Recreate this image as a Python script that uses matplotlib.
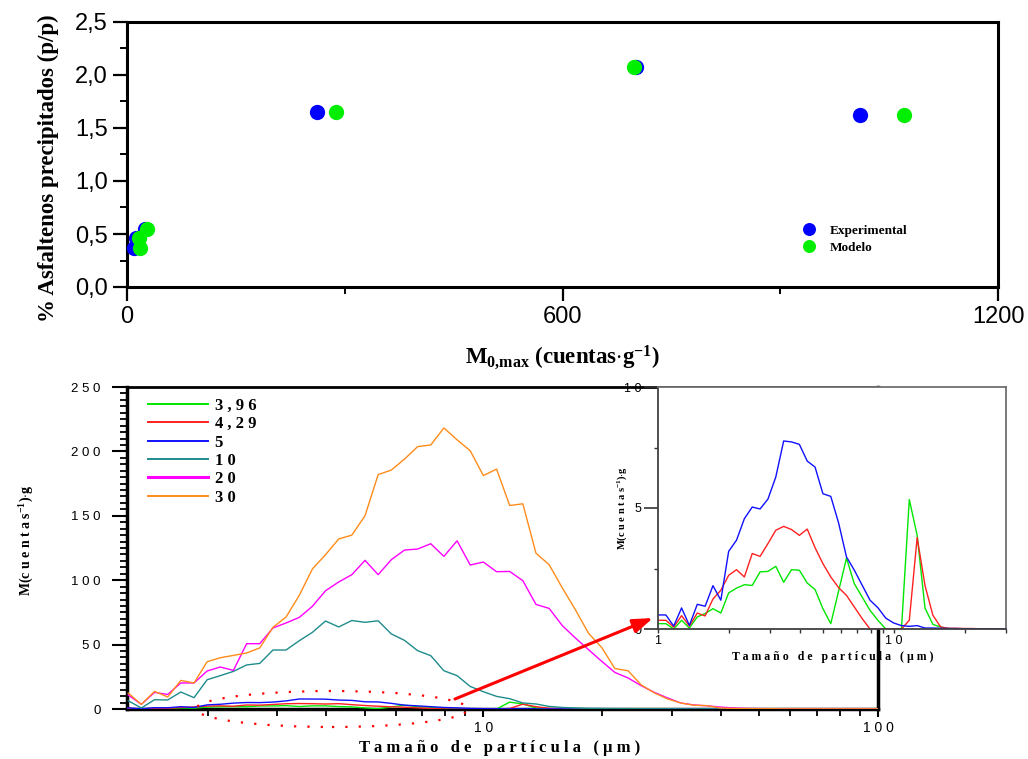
import numpy as np
import matplotlib
matplotlib.use("Agg")
import matplotlib.pyplot as plt
from matplotlib.patches import Ellipse, FancyArrowPatch
from matplotlib.ticker import FixedLocator, NullFormatter, FixedFormatter

plt.rcParams['font.family'] = ['Liberation Sans', 'DejaVu Sans']
plt.rcParams['mathtext.fontset'] = 'custom'
plt.rcParams['mathtext.rm'] = 'Liberation Serif'
plt.rcParams['mathtext.bf'] = 'Liberation Serif:bold'
plt.rcParams['mathtext.it'] = 'Liberation Serif:italic'

SERIF = ['Liberation Serif', 'DejaVu Serif']

# ---------------- top chart data ----------------
exp_x = [9, 13, 25, 262, 701, 1010]
exp_y = [0.37, 0.46, 0.55, 1.65, 2.08, 1.62]
mod_x = [18, 17, 28, 288, 698, 1070]
mod_y = [0.37, 0.46, 0.55, 1.65, 2.08, 1.62]
top_xticks = [0, 600, 1200]
top_xticklabels = ["0", "600", "1200"]
top_yticks = [0.0, 0.5, 1.0, 1.5, 2.0, 2.5]
top_yticklabels = ["0,0", "0,5", "1,0", "1,5", "2,0", "2,5"]

# ---------------- bottom chart data ----------------
sizes = [1.000, 1.080, 1.166, 1.259, 1.359, 1.468, 1.585, 1.711, 1.848, 1.995,
         2.154, 2.326, 2.512, 2.712, 2.929, 3.162, 3.415, 3.687, 3.981, 4.299,
         4.642, 5.012, 5.412, 5.843, 6.310, 6.813, 7.356, 7.943, 8.577, 9.261,
         10.00, 10.80, 11.66, 12.59, 13.59, 14.68, 15.85, 17.11, 18.48, 19.95,
         21.54, 23.26, 25.12, 27.12, 29.29, 31.62, 34.15, 36.87, 39.81, 42.99,
         46.42, 50.12, 54.12, 58.43, 63.10, 68.13, 73.56, 79.43, 85.77, 92.61,
         100.0]

m_396 = [0.22, 0.22, 0.00, 0.36, 0.04, 0.50, 0.64, 0.84, 0.66, 1.49,
         1.69, 1.83, 1.80, 2.36, 2.38, 2.59, 1.93, 2.45, 2.43, 1.90,
         1.63, 0.84, 0.22, 1.57, 2.93, 1.87, 1.32, 0.77, 0.36, 0.00,
         0.00, 0.00, 5.35, 3.87, 0.87, 0.19, 0.08, 0.02, 0.01, 0.01,
         0.01, 0.01, 0.01, 0.00, 0.00, 0.00, 0.00, 0.00, 0.00, 0.00,
         0.00, 0.00, 0.00, 0.00, 0.00, 0.00, 0.00, 0.00, 0.00, 0.00,
         0.00]
m_429 = [0.36, 0.36, 0.08, 0.55, 0.12, 0.66, 0.54, 1.24, 1.60, 2.22,
         2.45, 2.15, 3.12, 3.00, 3.53, 4.08, 4.24, 4.11, 3.87, 4.13,
         3.36, 2.70, 2.15, 1.71, 1.39, 0.91, 0.43, 0.00, 0.00, 0.00,
         0.00, 0.00, 0.36, 3.78, 1.80, 0.57, 0.08, 0.03, 0.03, 0.02,
         0.02, 0.01, 0.01, 0.01, 0.00, 0.00, 0.00, 0.00, 0.00, 0.00,
         0.00, 0.00, 0.00, 0.00, 0.00, 0.00, 0.00, 0.00, 0.00, 0.00,
         0.00]
m_5 = [0.58, 0.58, 0.12, 0.87, 0.15, 1.02, 0.94, 1.79, 1.19, 3.21,
       3.67, 4.56, 5.04, 4.96, 5.37, 6.28, 7.77, 7.73, 7.63, 6.94,
       6.69, 5.59, 5.48, 4.38, 2.98, 2.43, 1.81, 1.19, 0.88, 0.45,
       0.25, 0.14, 0.11, 0.14, 0.04, 0.04, 0.03, 0.02, 0.02, 0.01,
       0.01, 0.01, 0.01, 0.01, 0.00, 0.00, 0.00, 0.00, 0.00, 0.00,
       0.00, 0.00, 0.00, 0.00, 0.00, 0.00, 0.00, 0.00, 0.00, 0.00,
       0.00]
m_10 = [None, None, None, 6.4, 0.8, 7.2, 7.0, 13.2, 8.8, 22.7,
        25.9, 29.2, 34.2, 35.4, 45.8, 45.8, 53.0, 59.5, 68.3, 63.7,
        68.7, 67.3, 68.5, 58.3, 53.3, 45.3, 41.4, 29.7, 25.9, 17.5,
        13.4, 9.8, 8.0, 4.7, 3.9, 2.0, 1.2, 0.8, 0.5, 0.4,
        0.3, 0.3, 0.2, 0.2, 0.2, 0.1, 0.1, 0.1, 0.1, 0.1,
        0.1, 0.1, 0.1, 0.1, 0.1, 0.1, 0.1, 0.1, 0.1, 0.1,
        0.1]
m_20 = [None, None, None, 10.9, 3.6, 12.9, 11.3, 20.2, 20.2, 29.5,
        32.6, 30.0, 50.7, 50.7, 62.9, 66.8, 71.1, 79.7, 91.8, 98.6,
        104.3, 115.4, 104.3, 115.9, 123.4, 124.2, 128.3, 118.5, 130.6, 111.8,
        114.1, 106.6, 106.8, 99.6, 81.2, 78.1, 64.7, 55.1, 46.0, 37.0,
        28.4, 24.1, 18.1, 12.9, 8.6, 4.7, 3.1, 2.5, 1.5, 0.8,
        0.4, 0.3, 0.2, 0.2, 0.1, 0.1, 0.1, 0.1, 0.1, 0.1,
        0.1]
m_30 = [None, None, None, 12.4, 3.6, 13.7, 9.3, 22.2, 20.2, 36.7,
        39.8, 41.6, 43.5, 47.4, 63.4, 71.4, 88.2, 108.7, 119.8, 132.0,
        135.0, 150.0, 182.0, 185.5, 194.0, 203.7, 205.0, 218.2, 209.0, 200.5,
        181.2, 186.3, 158.0, 159.3, 121.0, 112.0, 94.0, 77.0, 58.7, 47.7,
        31.4, 29.7, 18.7, 12.5, 7.8, 4.7, 2.9, 2.6, 0.8, 0.4,
        0.3, 0.2, 0.2, 0.1, 0.1, 0.1, 0.1, 0.1, 0.1, 0.1,
        0.1]

series_labels = ["3,96", "4,29", "5", "10", "20", "30"]
series_colors = ["#00e600", "#ff2020", "#1010ff", "#1f8c8c", "#ff00ff", "#ff8c1a"]
series_values = [m_396, m_429, m_5, m_10, m_20, m_30]

main_yticks = [0, 50, 100, 150, 200, 250]
main_xticks = [10, 100]
inset_yticks = [0, 5, 10]
inset_xticks = [1, 10]


def spaced(s):
    return " ".join(s)


W, H = 1028, 759


def box(l, t, r, b):
    return [l / W, 1 - b / H, (r - l) / W, (b - t) / H]


fig = plt.figure(figsize=(W / 100, H / 100), dpi=100)

# ================= TOP CHART =================
ax1 = fig.add_axes(box(127, 22, 998, 287))
ax1.plot(exp_x, exp_y, 'o', color='#0000ff', ms=11, mec='none',
         label='Experimental', clip_on=False, zorder=3)
ax1.plot(mod_x, mod_y, 'o', color='#00ee00', ms=11, mec='none',
         label='Modelo', clip_on=False, zorder=4)
ax1.set_xlim(0, 1200)
ax1.set_ylim(0, 2.5)
ax1.xaxis.set_major_locator(FixedLocator(top_xticks))
ax1.xaxis.set_major_formatter(FixedFormatter(top_xticklabels))
ax1.xaxis.set_minor_locator(FixedLocator([300, 900]))
ax1.yaxis.set_major_locator(FixedLocator(top_yticks))
ax1.yaxis.set_major_formatter(FixedFormatter(top_yticklabels))
ax1.yaxis.set_minor_locator(FixedLocator([0.25, 0.75, 1.25, 1.75, 2.25]))
ax1.tick_params(which='major', length=10, width=1.6, direction='out',
                labelsize=17, pad=4)
ax1.tick_params(which='minor', length=5, width=1.4, direction='out')
for sp in ax1.spines.values():
    sp.set_linewidth(2.2)
leg1 = ax1.legend(loc='upper left', bbox_to_anchor=(0.776, 0.235),
                  frameon=False, prop=dict(family=SERIF, weight='bold', size=9.5),
                  handlelength=1.0, handletextpad=1.0, labelspacing=0.35,
                  borderpad=0, borderaxespad=0, markerscale=0.85, numpoints=1)

fig.text(48 / W, 1 - 168 / H, "% Asfaltenos precipitados (p/p)", rotation=90,
         ha='center', va='center', family=SERIF, weight='bold', fontsize=16.5)
fig.text(562 / W, 1 - 357 / H,
         r"M$_{\mathbf{0{,}max}}$ (cuentas$\cdot$g$^{\mathbf{-1}}$)",
         ha='center', va='center', family=SERIF, weight='bold', fontsize=16.5)

# ================= BOTTOM MAIN CHART =================
ax2 = fig.add_axes(box(127, 387, 878, 709))
for lab, col, vals in zip(series_labels, series_colors, series_values):
    ax2.plot(sizes, np.array(vals, dtype=float), color=col, lw=1.0,
             label=spaced(lab), zorder=2.6)
ax2.set_xscale('log')
ax2.set_xlim(1.25, 100)
ax2.set_ylim(0, 250)
ax2.xaxis.set_major_locator(FixedLocator(main_xticks))
ax2.xaxis.set_major_formatter(FixedFormatter([spaced(str(v)) for v in main_xticks]))
ax2.xaxis.set_minor_locator(FixedLocator([2, 3, 4, 5, 6, 7, 8, 9,
                                          20, 30, 40, 50, 60, 70, 80, 90]))
ax2.xaxis.set_minor_formatter(NullFormatter())
ax2.yaxis.set_major_locator(FixedLocator(main_yticks))
ax2.yaxis.set_major_formatter(FixedFormatter([spaced(str(v)) for v in main_yticks]))
ax2.yaxis.set_minor_locator(FixedLocator([v for v in range(0, 251, 5) if v % 50]))
ax2.tick_params(axis='y', which='major', length=11, width=1.5, direction='out',
                labelsize=9.5, pad=8)
ax2.tick_params(axis='y', which='minor', length=5, width=1.3, direction='out')
ax2.tick_params(axis='x', which='major', length=6, width=1.5, direction='out',
                labelsize=10, pad=3)
ax2.tick_params(axis='x', which='minor', length=5, width=1.3, direction='out')
for name, sp in ax2.spines.items():
    sp.set_linewidth(2.5 if name != 'top' else 2.0)
leg2 = ax2.legend(loc='upper left', bbox_to_anchor=(0.028, 0.966), frameon=False,
                  prop=dict(family=SERIF, weight='bold', size=12),
                  handlelength=3.6, handletextpad=0.4, labelspacing=0.14,
                  borderpad=0, borderaxespad=0)
for ln in leg2.get_lines():
    ln.set_linewidth(1.4)
leg2.get_lines()[4].set_linewidth(2.2)

fig.text(27 / W, 1 - 540 / H, r"M(c u e n t a s$^{\mathbf{-1}}$)$\cdot$g", rotation=90,
         ha='center', va='center', family=SERIF, weight='bold', fontsize=10)
fig.text(500 / W, 1 - 748 / H, "T a m a ñ o   d e   p a r t í c u l a   ( µ m )",
         ha='center', va='center', family=SERIF, weight='bold', fontsize=12)

# ================= INSET =================
ax3 = fig.add_axes(box(658, 387, 1006, 629), zorder=5, facecolor='white')
for lab, col, vals in list(zip(series_labels, series_colors, series_values))[:3]:
    ax3.plot(sizes, vals, color=col, lw=1.0)
ax3.set_xscale('log')
ax3.set_xlim(1, 30)
ax3.set_ylim(0, 10)
ax3.xaxis.set_major_locator(FixedLocator(inset_xticks))
ax3.xaxis.set_major_formatter(FixedFormatter([spaced(str(v)) for v in inset_xticks]))
ax3.xaxis.set_minor_locator(FixedLocator([2, 3, 4, 5, 6, 7, 8, 9, 20, 30]))
ax3.xaxis.set_minor_formatter(NullFormatter())
ax3.yaxis.set_major_locator(FixedLocator(inset_yticks))
ax3.yaxis.set_major_formatter(FixedFormatter([spaced(str(v)) for v in inset_yticks]))
ax3.yaxis.set_minor_locator(FixedLocator([2.5, 7.5]))
ax3.tick_params(axis='y', which='major', length=10, width=1.2, direction='out',
                labelsize=9, pad=2, color='#333333')
ax3.tick_params(axis='y', which='minor', length=3, width=1.0, direction='out',
                color='#333333')
ax3.tick_params(axis='x', which='major', length=3, width=1.0, direction='out',
                labelsize=9, pad=1.5, color='#333333')
ax3.tick_params(axis='x', which='minor', length=3, width=1.0, direction='out',
                color='#333333')
for name, sp in ax3.spines.items():
    sp.set_linewidth(1.3)
    sp.set_color('#404040' if name in ('left', 'bottom') else '#707070')

fig.text(622 / W, 1 - 508 / H, r"M(c u e n t a s$^{\mathbf{-1}}$)$\cdot$g", rotation=90,
         ha='center', va='center', family=SERIF, weight='bold', fontsize=7.5,
         zorder=6)
fig.text(833 / W, 1 - 657 / H, "T a m a ñ o   d e   p a r t í c u l a   ( µ m )",
         ha='center', va='center', family=SERIF, weight='bold', fontsize=8.5,
         zorder=6)

# ================= annotations =================
ell = Ellipse((332 / W, 1 - 709 / H), 272 / W, 36 / H, transform=fig.transFigure,
              fill=False, edgecolor='red', lw=1.6, linestyle=(0, (1, 5)), zorder=10)
fig.add_artist(ell)
arr = FancyArrowPatch((455 / W, 1 - 699 / H), (653 / W, 1 - 618 / H),
                      transform=fig.transFigure, color='red', lw=2.2,
                      arrowstyle='-|>,head_length=0.8,head_width=0.28',
                      mutation_scale=15, shrinkA=0, shrinkB=0, zorder=10)
fig.add_artist(arr)

fig.savefig("out.png", dpi=100)
